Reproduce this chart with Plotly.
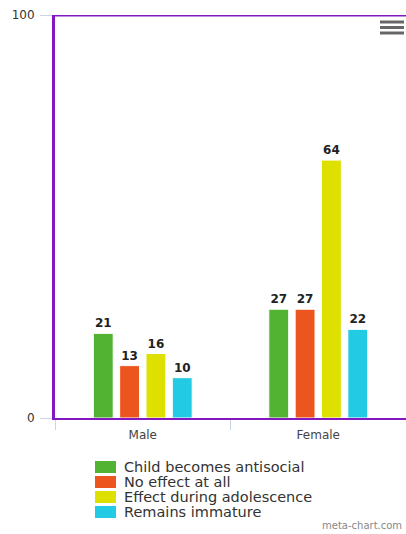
import plotly.graph_objects as go

# Survey responses by gender
categories = ["Male", "Female"]
series_names = [
    "Child becomes antisocial",
    "No effect at all",
    "Effect during adolescence",
    "Remains immature",
]
series_values = [
    [21, 27],
    [13, 27],
    [16, 64],
    [10, 22],
]
series_colors = ["#52b232", "#ec561e", "#dee000", "#22cbe3"]
y_ticks = [0, 100]

W, H = 406, 534
L, R, T, B = 55, 0, 15, 116
PW, PH = W - L - R, H - T - B


def px_x(x):
    """Pixel column -> paper x."""
    return (x - L) / PW


def px_y(y):
    """Pixel row -> paper y."""
    return (H - B - y) / PH


fig = go.Figure()
for name, vals, col in zip(series_names, series_values, series_colors):
    fig.add_trace(go.Bar(
        name=name,
        x=categories,
        y=vals,
        marker=dict(color=col, line=dict(color="white", width=1)),
        text=vals,
        texttemplate="<b>%{text}</b>",
        textposition="outside",
        textfont=dict(family="DejaVu Sans", size=12, color="#222"),
        cliponaxis=False,
    ))

axis_purple = "#8418c0"
tick_col = "#c8d6e2"

fig.update_layout(
    width=W, height=H,
    margin=dict(l=L, r=R, t=T, b=B, autoexpand=False),
    paper_bgcolor="white",
    plot_bgcolor="white",
    barmode="group",
    bargap=0.40,
    bargroupgap=0.245,
    font=dict(family="DejaVu Sans", color="#444"),
    showlegend=False,
    xaxis=dict(
        showline=True, linecolor=axis_purple, linewidth=2,
        ticks="outside", tickson="boundaries", ticklen=10,
        tickcolor=tick_col, tickwidth=1,
        ticklabelstandoff=5,
        showgrid=False, zeroline=False,
        tickfont=dict(family="DejaVu Sans", size=12, color="#444"),
        range=[-0.5, 1.5],
        fixedrange=True,
    ),
    yaxis=dict(
        range=[0, 100],
        tickvals=y_ticks,
        showline=True, linecolor=axis_purple, linewidth=3,
        ticks="outside", ticklen=12, tickcolor=tick_col, tickwidth=1,
        ticklabelstandoff=3,
        showgrid=False, zeroline=False,
        tickfont=dict(family="DejaVu Sans", size=12, color="#333"),
        fixedrange=True,
    ),
)

# Top border of the plot frame
fig.add_shape(type="line", xref="paper", yref="y", x0=0, x1=1, y0=100, y1=100,
              line=dict(color=axis_purple, width=3))

# Legend: colour swatches with their series names
for i, (name, col) in enumerate(zip(series_names, series_colors)):
    cy = 467 + 15 * i
    fig.add_shape(type="rect", xref="paper", yref="paper",
                  x0=px_x(95), x1=px_x(116), y0=px_y(cy - 6), y1=px_y(cy + 6),
                  fillcolor=col, line=dict(width=0))
    fig.add_annotation(text=name, xref="paper", yref="paper",
                       x=px_x(122), y=px_y(cy), xanchor="left", yanchor="middle",
                       showarrow=False,
                       font=dict(family="DejaVu Sans", size=14.5, color="#333"))

# Export menu icon
for yy in (22, 27.5, 33):
    fig.add_shape(type="line", xref="paper", yref="paper",
                  x0=px_x(380), x1=px_x(404), y0=px_y(yy), y1=px_y(yy),
                  line=dict(color="#666", width=3))

# Credit text
fig.add_annotation(text="meta-chart.com", xref="paper", yref="paper",
                   x=px_x(404), y=px_y(533), xanchor="right", yanchor="bottom",
                   showarrow=False,
                   font=dict(family="DejaVu Sans", size=10, color="#888"))

fig.write_html("out.html")
